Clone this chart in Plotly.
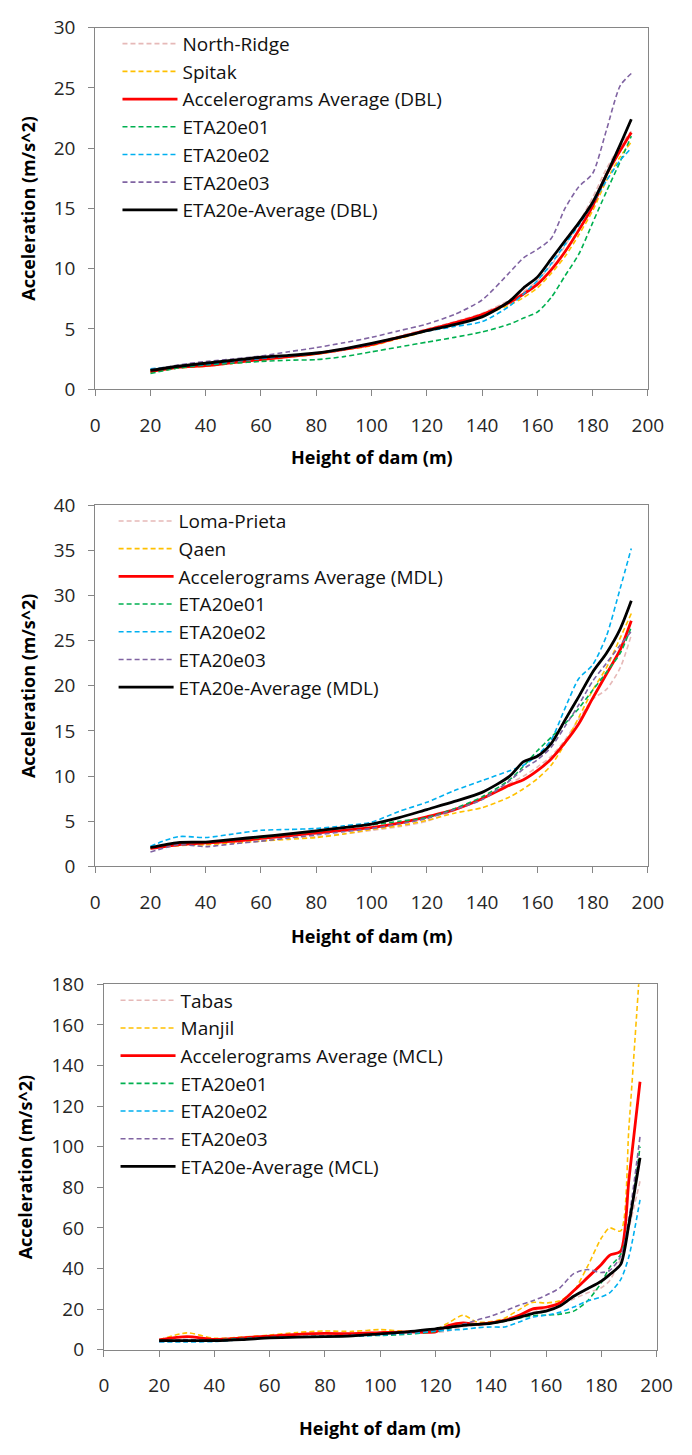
import plotly.graph_objects as go

W, H = 692, 1455

# ---------------- data ----------------
x_dbl = [20, 30, 40, 50, 60, 70, 80, 90, 100, 110, 120, 130, 140, 150, 155, 160, 165, 170, 175, 180, 185, 190, 194]
north_ridge = [1.5, 1.85, 2.0, 2.25, 2.5, 2.75, 3.0, 3.35, 3.8, 4.4, 5.0, 5.6, 6.3, 7.4, 8.1, 9.0, 10.3, 11.9, 13.8, 15.9, 18.3, 20.2, 21.4]
spitak = [1.4, 1.75, 1.9, 2.15, 2.4, 2.65, 2.9, 3.25, 3.6, 4.2, 4.8, 5.4, 6.1, 7.0, 7.6, 8.4, 9.6, 11.0, 12.8, 14.8, 17.3, 19.3, 20.5]
acc_avg_dbl = [1.45, 1.8, 1.95, 2.2, 2.45, 2.7, 2.95, 3.3, 3.7, 4.3, 4.9, 5.5, 6.2, 7.2, 7.9, 8.7, 9.9, 11.4, 13.2, 15.2, 17.8, 19.8, 21.3]
eta01_dbl = [1.3, 1.75, 2.0, 2.15, 2.3, 2.4, 2.45, 2.7, 3.1, 3.5, 3.9, 4.3, 4.75, 5.4, 5.9, 6.4, 7.6, 9.4, 11.2, 13.8, 16.4, 18.9, 21.0]
eta02_dbl = [1.7, 1.9, 2.05, 2.3, 2.55, 2.75, 2.95, 3.3, 3.75, 4.3, 4.8, 5.2, 5.6, 6.9, 7.9, 9.0, 10.4, 12.0, 13.6, 15.4, 17.3, 19.0, 20.0]
eta03_dbl = [1.6, 2.0, 2.3, 2.5, 2.75, 3.1, 3.45, 3.85, 4.3, 4.85, 5.4, 6.2, 7.4, 9.7, 10.9, 11.6, 12.5, 15.0, 16.8, 17.9, 21.5, 25.2, 26.2]
eta_avg_dbl = [1.55, 1.9, 2.15, 2.4, 2.65, 2.8, 3.0, 3.35, 3.8, 4.3, 4.85, 5.35, 6.0, 7.3, 8.4, 9.3, 10.8, 12.3, 13.8, 15.5, 17.8, 20.3, 22.4]

x_mdl = [20, 30, 40, 50, 60, 70, 80, 90, 100, 110, 120, 130, 140, 150, 155, 160, 165, 170, 175, 180, 185, 190, 194]
loma_prieta = [2.0, 2.4, 2.5, 2.7, 2.9, 3.1, 3.3, 3.6, 4.0, 4.4, 5.0, 6.2, 7.6, 9.2, 10.0, 11.0, 12.2, 14.0, 16.3, 18.5, 19.6, 22.0, 25.6]
qaen = [2.0, 2.3, 2.4, 2.6, 2.8, 3.0, 3.2, 3.6, 4.1, 4.5, 5.1, 5.9, 6.5, 7.7, 8.6, 9.7, 11.2, 13.6, 16.5, 19.5, 22.0, 25.3, 28.0]
acc_avg_mdl = [2.0, 2.4, 2.6, 2.8, 3.1, 3.4, 3.7, 4.0, 4.3, 4.8, 5.5, 6.3, 7.5, 9.0, 9.6, 10.6, 11.9, 13.7, 15.8, 18.6, 21.3, 24.0, 27.2]
eta01_mdl = [2.1, 2.6, 2.7, 2.95, 3.2, 3.55, 3.9, 4.25, 4.6, 5.0, 5.4, 6.4, 7.7, 9.6, 11.1, 12.8, 14.3, 15.8, 17.5, 19.5, 21.5, 23.6, 26.5]
eta02_mdl = [2.25, 3.3, 3.2, 3.6, 4.0, 4.1, 4.2, 4.5, 4.9, 6.1, 7.1, 8.4, 9.5, 10.6, 11.2, 12.3, 14.0, 17.5, 20.8, 22.3, 25.5, 30.8, 35.2]
eta03_mdl = [1.6, 2.4, 2.2, 2.5, 2.8, 3.15, 3.5, 3.85, 4.2, 4.7, 5.3, 6.3, 7.4, 9.5, 10.8, 11.8, 13.2, 15.5, 17.9, 20.5, 22.5, 24.5, 26.0]
eta_avg_mdl = [2.1, 2.65, 2.7, 3.0, 3.3, 3.6, 3.95, 4.3, 4.7, 5.4, 6.3, 7.2, 8.2, 10.0, 11.6, 12.2, 13.6, 16.2, 18.8, 21.5, 23.6, 26.3, 29.4]

x_mcl = [20, 30, 40, 50, 60, 70, 80, 90, 100, 110, 120, 125, 130, 135, 140, 145, 150, 155, 160, 165, 170, 175, 180, 183, 187, 190, 194]
tabas = [4.0, 4.0, 4.5, 5.0, 5.8, 6.5, 7.0, 7.2, 8.0, 8.5, 8.5, 9.3, 11.3, 12.0, 13.0, 15.0, 17.0, 18.5, 20.0, 22.0, 25.0, 28.0, 30.5, 34.0, 45.0, 60.0, 83.0]
manjil = [4.8, 8.3, 5.6, 6.2, 7.2, 8.5, 9.2, 9.0, 9.9, 9.0, 10.0, 13.5, 17.0, 13.6, 13.8, 15.5, 19.5, 23.3, 23.0, 24.1, 28.9, 41.0, 55.0, 60.0, 58.5, 110.0, 190.0]
acc_avg_mcl = [4.8, 6.4, 5.1, 5.8, 6.7, 7.5, 8.0, 7.9, 8.4, 8.8, 8.8, 12.0, 13.2, 12.5, 13.2, 14.5, 16.8, 20.0, 20.9, 23.0, 29.0, 35.5, 42.0, 46.5, 48.5, 84.0, 132.0]
eta01_mcl = [4.5, 4.5, 4.8, 5.5, 6.0, 6.3, 6.5, 6.9, 7.0, 7.6, 9.0, 10.2, 12.4, 12.5, 13.0, 14.0, 15.5, 16.8, 17.0, 17.5, 19.0, 24.0, 33.0, 40.5, 47.0, 62.0, 100.0]
eta02_mcl = [3.8, 3.8, 4.0, 5.0, 5.8, 6.2, 6.4, 6.7, 7.2, 8.0, 9.2, 9.6, 10.0, 10.8, 11.2, 11.2, 13.5, 16.0, 17.0, 18.4, 21.0, 24.0, 26.0, 28.0, 34.5, 46.0, 73.8]
eta03_mcl = [4.0, 5.0, 4.5, 5.3, 6.0, 6.4, 6.7, 7.2, 7.8, 8.3, 10.0, 10.6, 12.5, 14.6, 16.5, 19.0, 21.8, 24.0, 26.8, 30.5, 37.5, 39.5, 38.0, 39.0, 46.0, 65.0, 105.0]
eta_avg_mcl = [4.5, 4.5, 4.5, 5.0, 5.8, 6.2, 6.4, 6.8, 7.8, 8.8, 10.3, 11.0, 12.0, 12.5, 13.0, 14.2, 15.8, 17.8, 19.0, 21.5, 26.3, 30.0, 33.8, 37.0, 42.0, 62.0, 94.6]

x_ticks = [0, 20, 40, 60, 80, 100, 120, 140, 160, 180, 200]
x_title = "Height of dam (m)"
y_title = "Acceleration (m/s^2)"

panels = [
    dict(x=x_dbl, yr=[0, 30], dt=5, series=[
        ("North-Ridge", north_ridge, "rec"),
        ("Spitak", spitak, "rec2"),
        ("Accelerograms Average (DBL)", acc_avg_dbl, "acc"),
        ("ETA20e01", eta01_dbl, "e1"),
        ("ETA20e02", eta02_dbl, "e2"),
        ("ETA20e03", eta03_dbl, "e3"),
        ("ETA20e-Average (DBL)", eta_avg_dbl, "eavg")]),
    dict(x=x_mdl, yr=[0, 40], dt=5, series=[
        ("Loma-Prieta", loma_prieta, "rec"),
        ("Qaen", qaen, "rec2"),
        ("Accelerograms Average (MDL)", acc_avg_mdl, "acc"),
        ("ETA20e01", eta01_mdl, "e1"),
        ("ETA20e02", eta02_mdl, "e2"),
        ("ETA20e03", eta03_mdl, "e3"),
        ("ETA20e-Average (MDL)", eta_avg_mdl, "eavg")]),
    dict(x=x_mcl, yr=[0, 180], dt=20, series=[
        ("Tabas", tabas, "rec"),
        ("Manjil", manjil, "rec2"),
        ("Accelerograms Average (MCL)", acc_avg_mcl, "acc"),
        ("ETA20e01", eta01_mcl, "e1"),
        ("ETA20e02", eta02_mcl, "e2"),
        ("ETA20e03", eta03_mcl, "e3"),
        ("ETA20e-Average (MCL)", eta_avg_mcl, "eavg")]),
]

styles = {
    "rec": dict(color="#E6B9B8", width=1.6, dash="5px,3px"),
    "rec2": dict(color="#FFC000", width=1.6, dash="5px,3px"),
    "acc": dict(color="#FF0000", width=2.8, dash="solid"),
    "e1": dict(color="#00B050", width=1.6, dash="5px,3px"),
    "e2": dict(color="#00B0F0", width=1.6, dash="5px,3px"),
    "e3": dict(color="#8064A2", width=1.6, dash="5px,3px"),
    "eavg": dict(color="#000000", width=2.8, dash="solid"),
}

# pixel geometry of the plot areas: (left, right, top, bottom)
boxes = [(93, 663, 15, 383), (93, 663, 501, 869), (102, 672, 989, 1361)]
legend_pos = [(116, 12), (112, 498), (114, 986)]
x_title_y = [452, 940, 1441]
y_title_x = [24, 23, 21]

FONT = "Open Sans, Lato, sans-serif"
TICKFONT = dict(family=FONT, size=19, color="#262626")
fig = go.Figure()

for i, (p, box) in enumerate(zip(panels, boxes)):
    n = "" if i == 0 else str(i + 1)
    lg = "legend" + n
    for name, ys, key in p["series"]:
        st = styles[key]
        fig.add_trace(go.Scatter(
            x=p["x"], y=ys, name=name, mode="lines",
            line=dict(color=st["color"], width=st["width"], dash=st["dash"],
                      shape="spline", smoothing=0.7),
            xaxis="x" + n, yaxis="y" + n, legend=lg,
        ))
    l, r, t, b = box
    fig.layout["xaxis" + n] = dict(
        domain=[l / W, r / W], anchor="y" + n, range=[0, 200], tickvals=x_ticks,
        showline=True, linecolor="#868686", linewidth=1, mirror=True,
        ticks="outside", ticklen=6, tickcolor="#868686", showgrid=False, zeroline=False,
        tickfont=TICKFONT, ticklabelstandoff=13,
    )
    fig.layout["yaxis" + n] = dict(
        domain=[1 - b / H, 1 - t / H], anchor="x" + n, range=p["yr"], dtick=p["dt"],
        showline=True, linecolor="#868686", linewidth=1, mirror=True,
        ticks="outside", ticklen=6, tickcolor="#868686", showgrid=False, zeroline=False,
        tickfont=TICKFONT, ticklabelstandoff=9,
    )
    lx, ly = legend_pos[i]
    fig.layout[lg] = dict(
        x=lx / W, y=1 - ly / H, xanchor="left", yanchor="top",
        bgcolor="rgba(0,0,0,0)", font=dict(family=FONT, size=19, color="#111"),
        itemwidth=55, tracegroupgap=0,
    )
    fig.add_annotation(text=f"<b>{x_title}</b>", xref="paper", yref="paper",
                       x=(l + r) / 2 / W, y=1 - x_title_y[i] / H,
                       xanchor="center", yanchor="middle", showarrow=False,
                       font=dict(family=FONT, size=18, color="#000"))
    fig.add_annotation(text=f"<b>{y_title}</b>", xref="paper", yref="paper",
                       x=y_title_x[i] / W, y=1 - (t + b) / 2 / H,
                       xanchor="center", yanchor="middle", showarrow=False, textangle=-90,
                       font=dict(family=FONT, size=18, color="#000"))

fig.update_layout(
    width=W, height=H, margin=dict(l=0, r=0, t=0, b=0),
    paper_bgcolor="white", plot_bgcolor="white", showlegend=True,
)

fig.write_html("out.html")
